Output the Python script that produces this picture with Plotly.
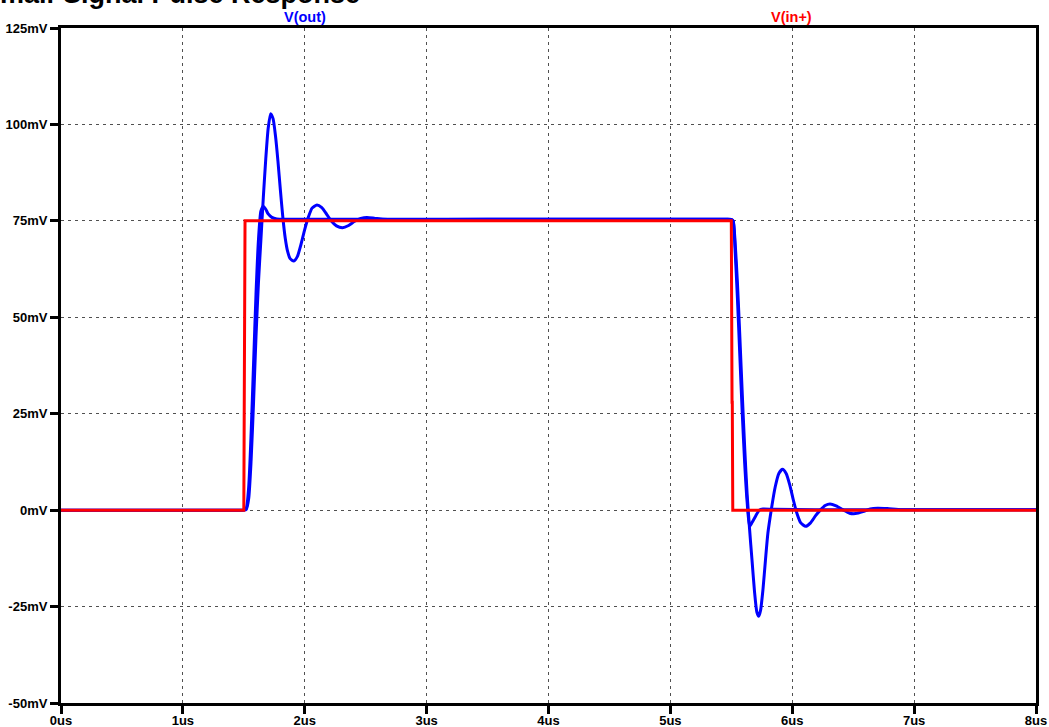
import plotly.graph_objects as go

# Transient simulation: small-signal pulse response (time in us, voltage in mV)
t_out_a = [0.0, 0.75, 1.40, 1.50, 1.52, 1.54, 1.56, 1.58, 1.60, 1.62, 1.64, 1.66, 1.68,
           1.70, 1.72, 1.74, 1.76, 1.78, 1.80, 1.82, 1.84, 1.86, 1.88, 1.91, 1.94, 1.97,
           2.00, 2.03, 2.06, 2.10, 2.14, 2.18, 2.22, 2.26, 2.31, 2.36, 2.41, 2.46, 2.51,
           2.57, 2.64, 2.75, 3.5, 4.5, 5.40, 5.50, 5.515, 5.53, 5.55, 5.57, 5.59, 5.61,
           5.63, 5.65, 5.67, 5.69, 5.71, 5.725, 5.74, 5.76, 5.78, 5.80, 5.83, 5.86, 5.89,
           5.92, 5.95, 5.98, 6.01, 6.04, 6.07, 6.11, 6.15, 6.19, 6.23, 6.27, 6.31, 6.36,
           6.42, 6.47, 6.52, 6.58, 6.64, 6.70, 6.78, 6.90, 7.3, 7.7, 8.0]
v_out_a = [0.0, 0.0, 0.0, 0.0, 0.2, 3, 13, 28, 45, 59, 70, 81, 91,
           99, 102.8, 101.5, 97, 90.5, 83, 76, 70.5, 67, 65.2, 64.6, 65.8, 69,
           72.8, 76, 78.3, 79.1, 78.4, 76.7, 74.9, 73.7, 73.2, 73.8, 74.9, 75.6, 75.9,
           75.7, 75.4, 75.3, 75.4, 75.4, 75.4, 75.4, 75.0, 70, 59, 45, 30, 16,
           4, -5, -13, -21, -26.5, -27.5, -26, -20.5, -13, -6, 0.5, 6, 9.5,
           10.6, 9.5, 6.5, 2.5, -1, -3.3, -4.2, -3.3, -1.5, 0, 1.2, 1.6, 1.1,
           0, -0.8, -0.9, -0.4, 0.3, 0.5, 0.4, 0.1, 0.1, 0.1, 0.1]

t_out_b = [0.0, 0.75, 1.40, 1.50, 1.52, 1.54, 1.56, 1.58, 1.60, 1.62, 1.64, 1.66, 1.68,
           1.70, 1.73, 1.77, 1.85, 2.5, 3.5, 4.5, 5.40, 5.50, 5.515, 5.53, 5.55, 5.57,
           5.59, 5.61, 5.63, 5.65, 5.67, 5.70, 5.73, 5.76, 5.85, 6.5, 7.3, 8.0]
v_out_b = [0.0, 0.0, 0.0, 0.0, 0.5, 6, 20, 38, 56, 70, 77.5, 78.8, 78,
           76.8, 75.9, 75.5, 75.4, 75.4, 75.4, 75.4, 75.4, 75.4, 75.0, 68, 55, 40,
           25, 12, 2, -4.2, -3.2, -1.5, 0, 0.3, 0.2, 0.1, 0.1, 0.1]

t_in = [0.0, 1.50, 1.51, 5.50, 5.506, 5.508, 5.512, 8.0]
v_in = [0.0, 0.0, 75.0, 75.0, 28.0, 28.0, 0.0, 0.0]

x_ticks = [0, 1, 2, 3, 4, 5, 6, 7, 8]
x_labels = ["0us", "1us", "2us", "3us", "4us", "5us", "6us", "7us", "8us"]
y_ticks = [-50, -25, 0, 25, 50, 75, 100, 125]
y_labels = ["-50mV", "-25mV", "0mV", "25mV", "50mV", "75mV", "100mV", "125mV"]

BLUE = "#0000ff"
RED = "#ff0000"
FONT = "Arial, Liberation Sans, sans-serif"

fig = go.Figure()
for t, v in ((t_out_a, v_out_a), (t_out_b, v_out_b)):
    fig.add_trace(go.Scatter(x=t, y=v, mode="lines",
                             line=dict(color=BLUE, width=3, shape="spline", smoothing=0.6),
                             hoverinfo="skip", showlegend=False))
fig.add_trace(go.Scatter(x=t_in, y=v_in, mode="lines",
                         line=dict(color=RED, width=3), hoverinfo="skip", showlegend=False))

axis_common = dict(
    showline=True, linecolor="black", linewidth=3, mirror=True,
    showgrid=True, gridcolor="#505050", gridwidth=1, griddash="3px,4px",
    zeroline=False, ticks="outside", ticklen=8, tickwidth=3, tickcolor="black",
    tickfont=dict(family=FONT, size=13, color="black", weight="bold"),
    automargin=False,
)
fig.update_xaxes(range=[0, 8], tickvals=x_ticks, ticktext=x_labels, ticklabelstandoff=-5,
                 **axis_common)
fig.update_yaxes(range=[-50, 125], tickvals=y_ticks, ticktext=y_labels, ticklabelstandoff=0,
                 **axis_common)

plot_w = 1049 - 61 - 13
plot_h = 727 - 28 - 24

def px_x(px):
    return (px - 61) / plot_w

def px_y(py):
    return (703 - py) / plot_h

fig.add_annotation(text="Small-Signal Pulse Response", xref="paper", yref="paper",
                   x=px_x(-20), y=px_y(11), xanchor="left", yanchor="bottom",
                   showarrow=False,
                   font=dict(family=FONT, size=27, color="black", weight="bold"))
fig.add_annotation(text="V(out)", xref="paper", yref="paper",
                   x=px_x(305), y=px_y(16.5), xanchor="center", yanchor="middle",
                   showarrow=False, font=dict(family=FONT, size=14.5, color=BLUE, weight="bold"))
fig.add_annotation(text="V(in+)", xref="paper", yref="paper",
                   x=px_x(791), y=px_y(16.5), xanchor="center", yanchor="middle",
                   showarrow=False, font=dict(family=FONT, size=14.5, color=RED, weight="bold"))

fig.update_layout(
    width=1049, height=727,
    margin=dict(l=61, r=13, t=28, b=24, pad=0, autoexpand=False),
    paper_bgcolor="white", plot_bgcolor="white",
    showlegend=False,
)

fig.write_html("out.html", config={"displayModeBar": False})
